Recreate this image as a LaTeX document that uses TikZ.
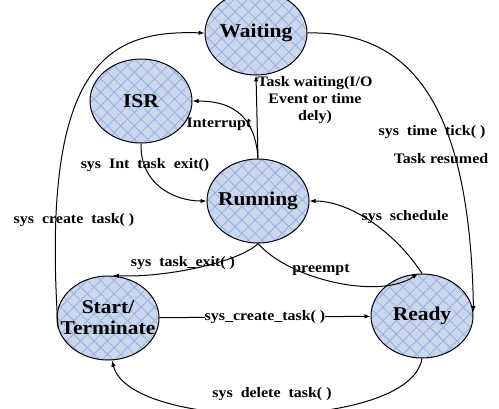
\documentclass[tikz,border=0pt]{standalone}
\usepackage{fontspec}
\setmainfont{Liberation Serif}[FakeStretch=1.1]
\usetikzlibrary{shapes,arrows.meta,positioning,patterns.meta}
\usepackage{xcolor}
\definecolor{statefill}{HTML}{CBD7EC}
\definecolor{statehatch}{HTML}{94B1E4}
\newcommand{\stname}[1]{\makebox[0pt]{#1}}

\begin{document}
\begin{tikzpicture}[x=1pt, y=-1pt,
  state/.style={ellipse, draw, line width=1pt, minimum width=102pt, minimum height=84pt, inner sep=0pt, align=center,
    font=\fontsize{19.5}{21}\selectfont\bfseries, preaction={fill=statefill},
    pattern={Hatch[angle=45,distance=9.5pt,line width=0.8pt]}, pattern color=statehatch},
  lbl/.style={font=\fontsize{14.5}{17}\selectfont\bfseries, align=center, inner sep=1pt},
  link/.style={line width=1pt, -{Latex[length=6pt,width=4.5pt]}},
]
  \useasboundingbox (0,0) rectangle (499,408);

  % states
  \node[state] (waiting) at (256,33)  {\stname{Waiting}};
  \node[state] (isr)     at (141,101) {\stname{ISR}};
  \node[state] (running) at (258,201) {\stname{Running}};
  \node[state] (start)   at (108,318) {\stname{Start/}\\\stname{Terminate}};
  \node[state] (ready)   at (422,316) {\stname{Ready}};

  % transition labels
  \node[lbl] (lwait)   at (315,100) {Task waiting(I/O\\Event or time\\dely)};
  \node[lbl] (lint)    at (219,124) {Interrupt};
  \node[lbl] (lisrx)   at (145,165) {sys\ \ Int\ \ task\ \ exit()};
  \node[lbl] (lcreate) at (74,220)  {sys\ \ create\ \ task( )};
  \node[lbl] (lexit)   at (183,263) {sys\ \ task\_exit( )};
  \node[lbl] (lpre)    at (321,270) {preempt};
  \node[lbl] (lsched)  at (405,217) {sys\ \ schedule};
  \node[lbl] (ltick)   at (432,132) {sys\ \ time\ \ tick( )};
  \node[lbl] (lres)    at (441,159) {Task resumed};
  \node[lbl] (ldel)    at (272,394) {sys\ \ delete\ \ task( )};

  % transitions
  \draw[link] (start.192) .. controls (40,60) and (110,30) .. (waiting.west);
  \draw[link] (waiting.east) .. controls (420,30) and (470,120) .. ([yshift=4pt]ready.east);
  \draw[link] (running.north) -- (waiting.south);
  \draw[link] (running.north) .. controls (255,112) and (228,101) .. (isr.east);
  \draw[link] (isr.south) .. controls (140,185) and (175,201) .. (running.west);
  \draw[link] (ready.north) .. controls (395,232) and (350,201) .. (running.east);
  \draw[link] (running.south) .. controls (290,280) and (380,300) .. ([xshift=-4pt]ready.north);
  \draw[link] (running.south) .. controls (240,262) and (165,278) .. ([xshift=5pt]start.north);
  \draw[link] (start) -- node[lbl, fill=white, inner sep=0pt] (lnew) {sys\_create\_task( )} (ready);
  \draw[link] (ready.south) .. controls (410,432) and (130,432) .. ([xshift=4pt]start.south);
\end{tikzpicture}
\end{document}
